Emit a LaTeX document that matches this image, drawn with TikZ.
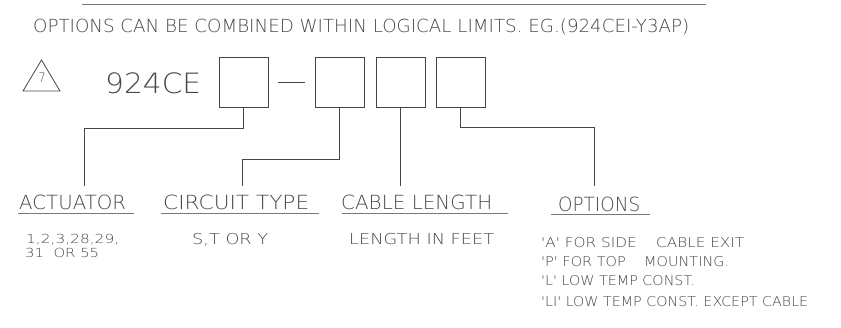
\documentclass[tikz,border=0pt]{standalone}
\usepackage{fontspec}
\IfFontExistsTF{DejaVu Sans ExtraLight}
  {\setmainfont{DejaVu Sans ExtraLight}}
  {\setmainfont{Liberation Sans}}
\usepackage{graphicx}
\definecolor{ink}{RGB}{70,70,70}
\definecolor{lite}{RGB}{120,120,120}
\newcommand{\fw}[2]{\resizebox{#1}{\height}{#2}}
\newcommand{\q}{\textquotesingle}
\begin{document}
\begin{tikzpicture}[x=1pt,y=-1pt,
  txt/.style={anchor=base west, inner sep=0pt, text=ink},
  slot/.style={draw=ink, line width=1pt, minimum width=49pt, minimum height=50pt, inner sep=0pt},
  wire/.style={draw=ink, line width=1pt},
  uline/.style={draw=lite, line width=1pt}]
\useasboundingbox (0,0) rectangle (841,327);
% top rule
\draw[uline] (82,4) -- (706,4);
\node[txt, font=\fontsize{18}{20}\selectfont] (title) at (33,32)
  {\fw{656pt}{OPTIONS CAN BE COMBINED WITHIN LOGICAL LIMITS. EG.(924CEI-Y3AP)}};
% triangle with 7
\draw[wire, line width=0.8pt] (23,91) -- (41.5,60) -- (60,91) -- cycle;
\node[txt, font=\fontsize{13}{15}\selectfont] (seven) at (38.5,82) {\fw{7pt}{7}};
% part number
\node[txt, font=\fontsize{28}{30}\selectfont] (pn) at (105,93) {\fw{96pt}{924CE}};
\node[slot] (b1) at (243.5,82) {};
\draw[wire] (278,82) -- (305,82);
\node[slot] (b2) at (339.5,82) {};
\node[slot] (b3) at (400.5,82) {};
\node[slot] (b4) at (460.5,82) {};
% connector ends
\coordinate (e1) at (84,186);
\coordinate (e2) at (242,186);
\coordinate (e3) at (400.5,186);
\coordinate (e4) at (594,186);
\draw[wire] (b1.south) -- ++(0,21) -| (e1);
\draw[wire] (b2.south) -- ++(0,52) -| (e2);
\draw[wire] (b3.south) -- (e3);
\draw[wire] (b4.south) -- ++(0,20) -| (e4);
% headings
\node[txt, font=\fontsize{19.5}{22}\selectfont] (h1) at (19,209) {\fw{107pt}{ACTUATOR}};
\node[txt, font=\fontsize{19.5}{22}\selectfont] (h2) at (163,209) {\fw{146pt}{CIRCUIT TYPE}};
\node[txt, font=\fontsize{19.5}{22}\selectfont] (h3) at (341,209) {\fw{151pt}{CABLE LENGTH}};
\node[txt, font=\fontsize{19.5}{22}\selectfont] (h4) at (558,211) {\fw{82pt}{OPTIONS}};
\draw[uline] (18,213) -- (134,213);
\draw[uline] (161,213) -- (319,213);
\draw[uline] (342,213) -- (508,213);
\draw[uline] (551,214) -- (650,214);
% values
\node[txt, font=\fontsize{12.5}{14}\selectfont] (v1a) at (26,243) {\fw{93pt}{1,2,3,28,29,}};
\node[txt, font=\fontsize{12.5}{14}\selectfont] (v1b) at (25,257) {\fw{74pt}{31\ \ OR 55}};
\node[txt, font=\fontsize{15}{17}\selectfont] (v2) at (192,244) {\fw{76pt}{S,T OR Y}};
\node[txt, font=\fontsize{15}{17}\selectfont] (v3) at (349,244) {\fw{145pt}{LENGTH IN FEET}};
\node[txt, font=\fontsize{13.5}{15}\selectfont] (o1) at (541,247) {\fw{203pt}{\q A\q\ FOR SIDE\ \ \ \ CABLE EXIT}};
\node[txt, font=\fontsize{13.5}{15}\selectfont] (o2) at (541,266) {\fw{188pt}{\q P\q\ FOR TOP\ \ \ \ MOUNTING.}};
\node[txt, font=\fontsize{13.5}{15}\selectfont] (o3) at (541,285) {\fw{154pt}{\q L\q\ LOW TEMP CONST.}};
\node[txt, font=\fontsize{13.5}{15}\selectfont] (o4) at (541,306) {\fw{267pt}{\q LI\q\ LOW TEMP CONST. EXCEPT CABLE}};
\end{tikzpicture}
\end{document}
